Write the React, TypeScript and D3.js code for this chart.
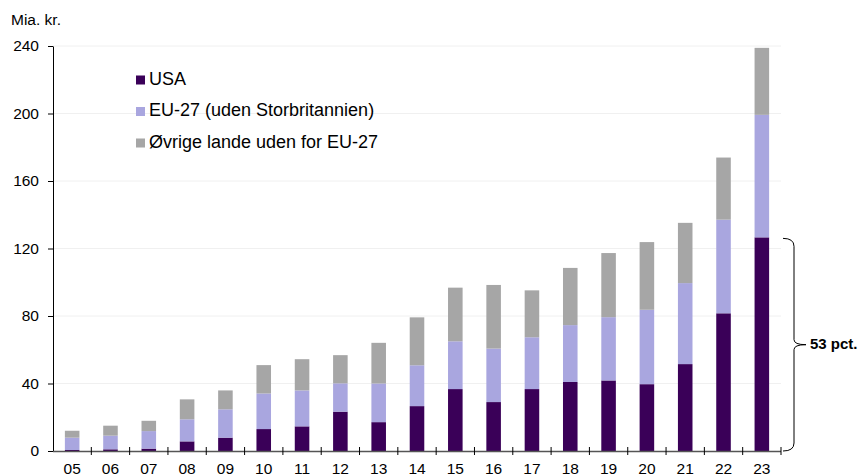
import { useEffect, useRef } from "react";
import * as d3 from "d3";

const years = ["05", "06", "07", "08", "09", "10", "11", "12", "13", "14", "15", "16", "17", "18", "19", "20", "21", "22", "23"];
const usa = [0.6, 1.0, 1.4, 5.7, 7.9, 13.0, 14.6, 23.3, 17.1, 26.6, 36.7, 29.0, 36.7, 40.9, 41.8, 39.6, 51.5, 81.6, 126.6];
const eu = [7.3, 8.1, 10.4, 13.1, 16.8, 21.1, 21.3, 16.8, 22.9, 24.2, 28.3, 31.7, 30.7, 33.7, 37.5, 44.1, 48.0, 55.5, 72.6];
const other = [4.1, 5.9, 6.1, 11.8, 11.2, 16.8, 18.5, 16.7, 24.1, 28.4, 31.8, 37.7, 27.8, 33.9, 38.0, 40.1, 35.7, 36.8, 39.7];
const yTicks = [0, 40, 80, 120, 160, 200, 240];
const seriesNames = ["USA", "EU-27 (uden Storbritannien)", "Øvrige lande uden for EU-27"];
const seriesColors = ["#3a0058", "#a9a6df", "#a6a6a6"];

export default function App() {
  const ref = useRef<SVGSVGElement>(null);

  useEffect(() => {
    const svg = d3.select(ref.current);
    const width = 868;
    const height = 476;
    const left = 53;
    const right = 781;
    const bottom = 451;
    const top = 46;
    const font = "'Liberation Sans', Arial, sans-serif";

    svg.selectAll("*").remove();
    svg.attr("viewBox", `0 0 ${width} ${height}`).style("font-family", font);

    const x = d3.scaleBand().domain(years).range([left, right]).paddingInner(0.62).paddingOuter(0.31);
    const y = d3.scaleLinear().domain([0, 240]).range([bottom, top]);

    // light gridlines
    svg
      .append("g")
      .selectAll("line")
      .data(yTicks.slice(1))
      .join("line")
      .attr("x1", left)
      .attr("x2", right)
      .attr("y1", (d) => y(d))
      .attr("y2", (d) => y(d))
      .attr("stroke", "#f0f0f0")
      .attr("stroke-width", 1);

    const rows = years.map((yr, i) => ({ year: yr, usa: usa[i], eu: eu[i], other: other[i] }));
    const stack = d3.stack<any>().keys(["usa", "eu", "other"]);
    const layers = stack(rows);

    svg
      .append("g")
      .selectAll("g")
      .data(layers)
      .join("g")
      .attr("fill", (_, i) => seriesColors[i])
      .selectAll("rect")
      .data((d) => d)
      .join("rect")
      .attr("x", (d) => x(d.data.year)!)
      .attr("width", x.bandwidth())
      .attr("y", (d) => y(d[1]))
      .attr("height", (d) => y(d[0]) - y(d[1]));

    // y axis
    const yAxis = svg
      .append("g")
      .attr("transform", `translate(${left},0)`)
      .call(d3.axisLeft(y).tickValues(yTicks).tickSize(5).tickPadding(9).tickSizeOuter(0));
    yAxis.select(".domain").attr("stroke", "#000");
    yAxis.selectAll(".tick line").attr("stroke", "#000");
    yAxis.selectAll("text").attr("fill", "#000").style("font-size", "15.5px").style("font-family", font);

    // x axis: line, ticks between bars, labels
    const xg = svg.append("g");
    xg.append("line")
      .attr("x1", left)
      .attr("x2", right)
      .attr("y1", bottom + 0.5)
      .attr("y2", bottom + 0.5)
      .attr("stroke", "#555")
      .attr("stroke-width", 1.6);
    const step = x.step();
    const x0 = x(years[0])! - step * 0.31;
    xg.selectAll("line.tk")
      .data(d3.range(1, years.length + 1))
      .join("line")
      .attr("class", "tk")
      .attr("x1", (i) => x0 + i * step)
      .attr("x2", (i) => x0 + i * step)
      .attr("y1", bottom - 4)
      .attr("y2", bottom + 4)
      .attr("stroke", "#000");
    xg.selectAll("text")
      .data(years)
      .join("text")
      .attr("x", (d) => x(d)! + x.bandwidth() / 2)
      .attr("y", 470)
      .attr("text-anchor", "middle")
      .attr("dominant-baseline", "middle")
      .style("font-size", "15.5px")
      .text((d) => d);

    svg
      .append("text")
      .attr("x", 11)
      .attr("y", 25)
      .style("font-size", "15.5px")
      .text("Mia. kr.");

    // legend
    const legend = svg
      .append("g")
      .selectAll("g")
      .data(seriesNames)
      .join("g")
      .attr("transform", (_, i) => `translate(136,${80 + i * 31.5})`);
    legend
      .append("rect")
      .attr("y", -4.5)
      .attr("width", 9)
      .attr("height", 9)
      .attr("fill", (_, i) => seriesColors[i]);
    legend
      .append("text")
      .attr("x", 13)
      .attr("dominant-baseline", "middle")
      .style("font-size", "18px")
      .text((d) => d);

    // brace around the USA share of the last bar
    const yt = y(usa[usa.length - 1]) + 1;
    const yb = bottom;
    const ym = (yt + yb) / 2;
    const bx = 794;
    const path = d3.path();
    path.moveTo(783, yt);
    path.quadraticCurveTo(bx, yt, bx, yt + 8);
    path.lineTo(bx, ym - 5);
    path.quadraticCurveTo(bx, ym, bx + 12, ym);
    path.quadraticCurveTo(bx, ym, bx, ym + 5);
    path.lineTo(bx, yb - 8);
    path.quadraticCurveTo(bx, yb, 783, yb);
    svg
      .append("path")
      .attr("d", path.toString())
      .attr("fill", "none")
      .attr("stroke", "#000")
      .attr("stroke-width", 1);
    svg
      .append("text")
      .attr("x", 810)
      .attr("y", ym)
      .attr("dominant-baseline", "middle")
      .style("font-size", "15px")
      .style("font-weight", "bold")
      .text("53 pct.");
  }, []);

  return (
    <svg
      ref={ref}
      width={868}
      height={476}
      style={{ position: "absolute", left: 0, top: 0, background: "#fff" }}
      role="img"
      aria-label="Stacked bar chart"
    />
  );
}
